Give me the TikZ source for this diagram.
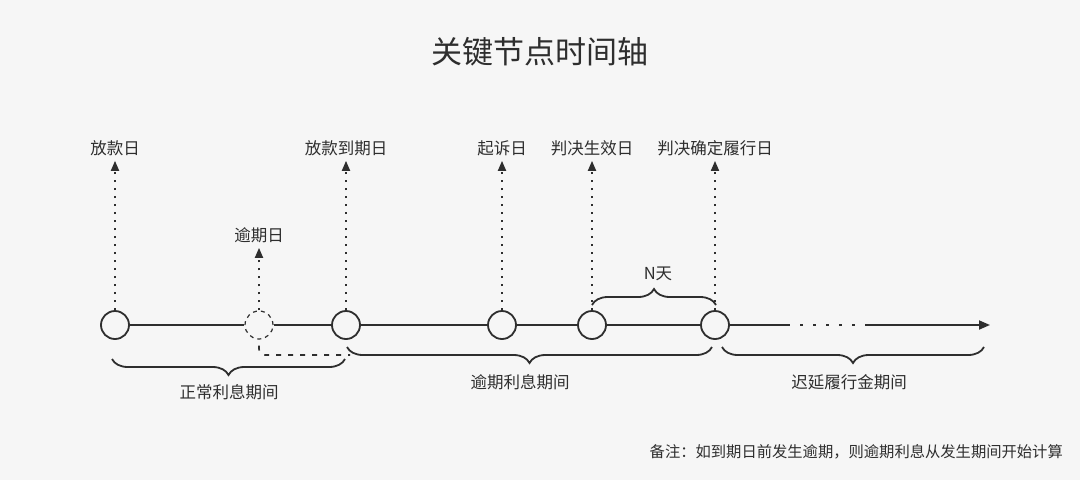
\documentclass[tikz,border=0pt]{standalone}
\usepackage{fontspec}
\setmainfont{Noto Sans CJK SC}
\usetikzlibrary{arrows.meta, positioning, decorations.pathreplacing}
\definecolor{bgcol}{HTML}{F6F6F6}
\definecolor{ink}{HTML}{2E2E2E}

\begin{document}
\begin{tikzpicture}[
  x=1pt, y=-1pt,
  event/.style={circle, draw=ink, line width=1.8pt, minimum size=28pt, inner sep=0pt},
  ghostevent/.style={event, dash pattern=on 4pt off 4pt, line width=1.2pt},
  datetext/.style={text=ink, inner sep=2pt, font=\fontsize{16.5}{19}\selectfont},
  spantext/.style={datetext},
  riser/.style={draw=ink, line width=1.8pt, dash pattern=on 2.5pt off 5.5pt, -{Triangle[width=8pt,length=10pt]}, shorten >=3pt},
  axis/.style={draw=ink, line width=1.8pt},
  span/.style={draw=ink, line width=1.8pt, decorate, decoration={brace, amplitude=16pt}},
  >={Triangle[width=9pt,length=11pt]}
]
\fill[bgcol] (0,0) rectangle (1080,480);
\useasboundingbox (0,0) rectangle (1080,480);

% Title
\node[text=ink, font=\fontsize{31}{35}\selectfont] (title) at (540,52) {关键节点时间轴};

% Events on the axis
\node[event] (d1) at (115,325) {};       % loan day
\node[ghostevent] (yq) at (259,325) {};  % overdue day
\node[event] (d3) at (346,325) {};       % maturity
\node[event] (d4) at (502,325) {};       % suit filed
\node[event] (d5) at (592,325) {};       % judgment effective
\node[event] (d6) at (715,325) {};       % performance due

% Date labels
\node[datetext] (t1) at (115,148) {放款日};
\node[datetext] (t2) at (259,235) {逾期日};
\node[datetext] (t3) at (346,148) {放款到期日};
\node[datetext] (t4) at (502,148) {起诉日};
\node[datetext] (t5) at (592,148) {判决生效日};
\node[datetext] (t6) at (715,148) {判决确定履行日};

% Risers
\draw[riser] (d1) -- (t1);
\draw[riser] (yq) -- (t2);
\draw[riser] (d3) -- (t3);
\draw[riser] (d4) -- (t4);
\draw[riser] (d5) -- (t5);
\draw[riser] (d6) -- (t6);

% Axis
\coordinate (gap1) at (787,325);
\coordinate (gap2) at (866,325);
\coordinate (axisend) at (990,325);
\draw[axis] (d1) -- (yq) -- (d3) -- (d4) -- (d5) -- (d6) -- (gap1);
\draw[axis, dash pattern=on 3pt off 10pt] (gap1) -- (gap2);
\draw[axis, ->] (gap2) -- (axisend);

% N days
\draw[span] (592,305) -- (716,305);
\node[datetext] (nday) at (658,274) {N天};

% Periods
\draw[span] (345,359) -- (112,359);
\draw[span] (712,347) -- (347,347);
\draw[span] (984,347) -- (722,347);
\draw[draw=ink, line width=1.6pt, dash pattern=on 5pt off 7pt, rounded corners=6pt]
  ([yshift=-6pt]yq.south) |- (350,355);
\node[spantext] (normal) at (229,392) {正常利息期间};
\node[spantext] (overdue) at (520,382) {逾期利息期间};
\node[spantext] (delay) at (849,382) {迟延履行金期间};

% Note
\node[text=ink, anchor=east, inner sep=0pt, font=\fontsize{15.3}{18}\selectfont] (note) at (1063,452)
  {备注：如到期日前发生逾期，则逾期利息从发生期间开始计算};
\end{tikzpicture}
\end{document}
